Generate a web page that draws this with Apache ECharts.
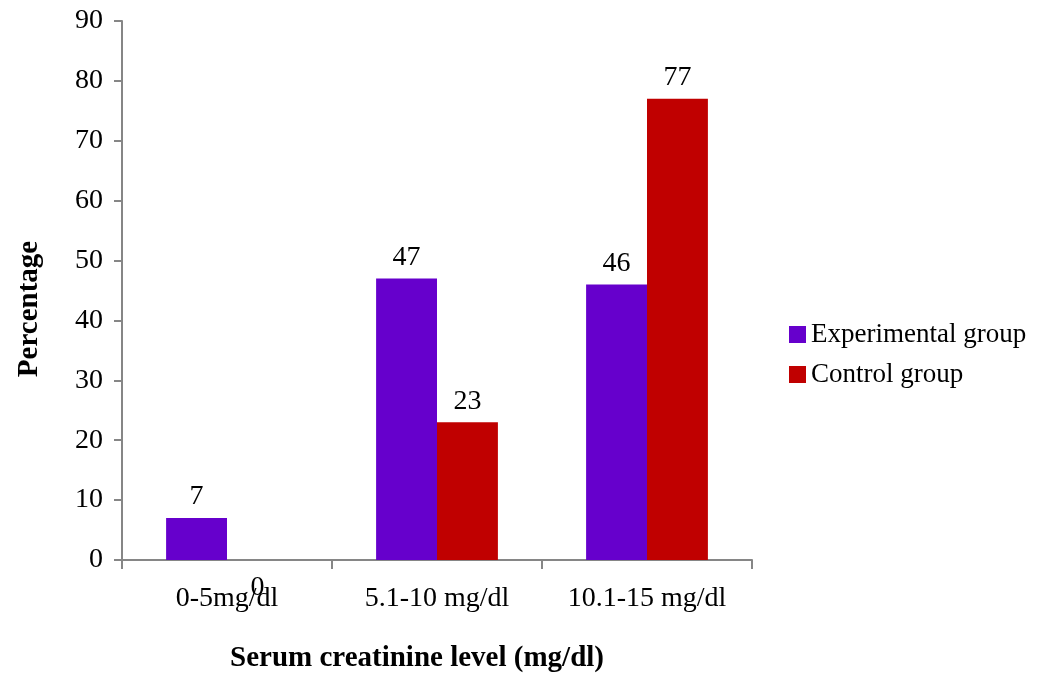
<!DOCTYPE html>
<html>
<head>
<meta charset="utf-8">
<script src="https://cdn.jsdelivr.net/npm/echarts@6/dist/echarts.min.js"></script>
<style>
  html, body { margin: 0; padding: 0; background: #fff; }
  #chart { width: 1037px; height: 674px; }
</style>
</head>
<body>
<div id="chart"></div>
<script>
// Serum creatinine level distribution by group (percentages)
const categories = ['0-5mg/dl', '5.1-10 mg/dl', '10.1-15 mg/dl'];
const experimentalGroup = [7, 47, 46];
const controlGroup = [0, 23, 77];
const yTicks = { min: 0, max: 90, interval: 10 };

const FONT = '"Liberation Serif", "Times New Roman", serif';
const AXIS_GREY = '#868686';

const chart = echarts.init(document.getElementById('chart'), null, { renderer: 'canvas' });

const valueLabel = {
  show: true,
  position: 'top',
  distance: 7,
  color: '#000',
  fontFamily: FONT,
  fontSize: 28
};

// A zero-height bar's label sits below the axis line
const controlData = controlGroup.map(v => v === 0
  ? { value: v, label: { offset: [0, 49] } }
  : v);

chart.setOption({
  backgroundColor: '#fff',
  animation: false,
  grid: { left: 122, right: 285, top: 21, bottom: 114, containLabel: false },
  legend: {
    orient: 'vertical',
    left: 784,
    top: 316,
    itemWidth: 17,
    itemHeight: 17,
    itemGap: 13,
    icon: 'rect',
    textStyle: { fontFamily: FONT, fontSize: 27, color: '#000' },
    data: ['Experimental group', 'Control group']
  },
  xAxis: {
    type: 'category',
    data: categories,
    axisLine: { lineStyle: { color: AXIS_GREY, width: 2 } },
    axisTick: { show: true, alignWithLabel: false, length: 9, lineStyle: { color: AXIS_GREY, width: 2 } },
    axisLabel: { margin: 25, color: '#000', fontFamily: FONT, fontSize: 28 },
    splitLine: { show: false }
  },
  yAxis: {
    type: 'value',
    min: yTicks.min,
    max: yTicks.max,
    interval: yTicks.interval,
    axisLine: { show: true, lineStyle: { color: AXIS_GREY, width: 2 } },
    axisTick: { show: true, length: 8, lineStyle: { color: AXIS_GREY, width: 2 } },
    axisLabel: { margin: 19, color: '#000', fontFamily: FONT, fontSize: 28 },
    splitLine: { show: false }
  },
  series: [
    {
      name: 'Experimental group',
      type: 'bar',
      data: experimentalGroup,
      itemStyle: { color: '#6600CC' },
      barGap: '0%',
      barCategoryGap: '42%',
      label: valueLabel
    },
    {
      name: 'Control group',
      type: 'bar',
      data: controlData,
      itemStyle: { color: '#C00000' },
      barGap: '0%',
      barCategoryGap: '42%',
      label: valueLabel
    }
  ],
  graphic: [
    {
      type: 'text',
      x: 417,
      y: 659,
      style: {
        text: 'Serum creatinine level (mg/dl)',
        fontFamily: FONT,
        fontSize: 29,
        fontWeight: 'bold',
        fill: '#000',
        align: 'center',
        verticalAlign: 'middle'
      }
    },
    {
      type: 'text',
      x: 30,
      y: 309,
      rotation: Math.PI / 2,
      style: {
        text: 'Percentage',
        fontFamily: FONT,
        fontSize: 29,
        fontWeight: 'bold',
        fill: '#000',
        align: 'center',
        verticalAlign: 'middle'
      }
    }
  ]
});
</script>
</body>
</html>
